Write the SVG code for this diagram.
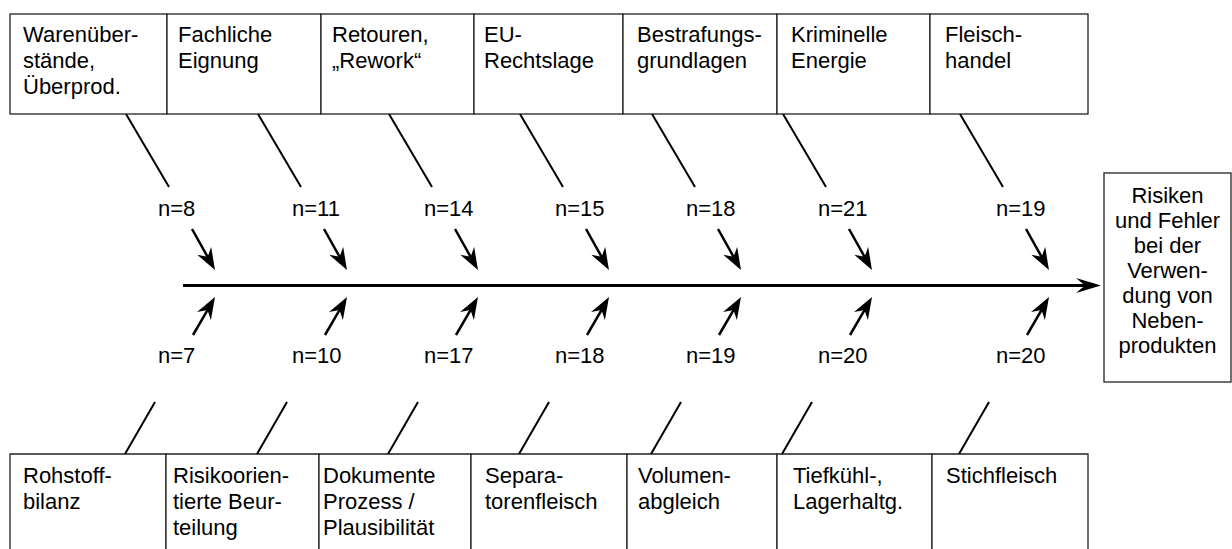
<svg xmlns="http://www.w3.org/2000/svg" width="1232" height="549" viewBox="0 0 1232 549">
<style>
.box{fill:#fff;stroke:#222;stroke-width:1.3}
.t{font-family:"Liberation Sans",Arial,sans-serif;font-size:22px;fill:#000}
.tc{font-family:"Liberation Sans",Arial,sans-serif;font-size:22px;fill:#000;text-anchor:middle}
.bone{stroke:#000;stroke-width:2;fill:none}
.arr{stroke:#000;stroke-width:2.5;fill:none;marker-end:url(#ah)}
.main{stroke:#000;stroke-width:3;fill:none;marker-end:url(#mh)}
</style>
<defs>
<marker id="ah" markerUnits="userSpaceOnUse" markerWidth="22" markerHeight="16" viewBox="0 0 22 16" refX="9" refY="8" orient="auto"><path d="M0,0 L22,8 L0,16 L7,8 Z" fill="#000"/></marker>
<marker id="mh" markerUnits="userSpaceOnUse" markerWidth="25" markerHeight="15" viewBox="0 0 25 15" refX="12" refY="7.5" orient="auto"><path d="M0,0 L25,7.5 L0,15 L9,7.5 Z" fill="#000"/></marker>
</defs>
<rect width="1232" height="549" fill="#fff"/>

<g id="top1"><rect class="box" x="10" y="14" width="157" height="100"/><text class="t" x="23" y="42">Warenüber-</text><text class="t" x="23" y="68">stände,</text><text class="t" x="23" y="94">Überprod.</text></g>
<g id="top2"><rect class="box" x="167" y="14" width="154" height="100"/><text class="t" x="178" y="42">Fachliche</text><text class="t" x="178" y="68">Eignung</text></g>
<g id="top3"><rect class="box" x="321" y="14" width="153" height="100"/><text class="t" x="332" y="42">Retouren,</text><text class="t" x="332" y="68">„Rework“</text></g>
<g id="top4"><rect class="box" x="474" y="14" width="149" height="100"/><text class="t" x="484" y="42">EU-</text><text class="t" x="484" y="68">Rechtslage</text></g>
<g id="top5"><rect class="box" x="623" y="14" width="154" height="100"/><text class="t" x="637" y="42">Bestrafungs-</text><text class="t" x="637" y="68">grundlagen</text></g>
<g id="top6"><rect class="box" x="777" y="14" width="153" height="100"/><text class="t" x="791" y="42">Kriminelle</text><text class="t" x="791" y="68">Energie</text></g>
<g id="top7"><rect class="box" x="930" y="14" width="158" height="100"/><text class="t" x="945" y="42">Fleisch-</text><text class="t" x="945" y="68">handel</text></g>

<g id="bot1"><path class="box" d="M10,549 V454 H166 V549"/><text class="t" x="23" y="483">Rohstoff-</text><text class="t" x="23" y="509">bilanz</text></g>
<g id="bot2"><path class="box" d="M166,549 V454 H319 V549"/><text class="t" x="173" y="483">Risikoorien-</text><text class="t" x="173" y="509">tierte Beur-</text><text class="t" x="173" y="535">teilung</text></g>
<g id="bot3"><path class="box" d="M319,549 V454 H471 V549"/><text class="t" x="323" y="483">Dokumente</text><text class="t" x="323" y="509">Prozess /</text><text class="t" x="323" y="535">Plausibilität</text></g>
<g id="bot4"><path class="box" d="M471,549 V454 H627 V549"/><text class="t" x="485" y="483">Separa-</text><text class="t" x="485" y="509">torenfleisch</text></g>
<g id="bot5"><path class="box" d="M627,549 V454 H777 V549"/><text class="t" x="638" y="483">Volumen-</text><text class="t" x="638" y="509">abgleich</text></g>
<g id="bot6"><path class="box" d="M777,549 V454 H932 V549"/><text class="t" x="793" y="483">Tiefkühl-,</text><text class="t" x="793" y="509">Lagerhaltg.</text></g>
<g id="bot7"><path class="box" d="M932,549 V454 H1088 V549"/><text class="t" x="946" y="483">Stichfleisch</text></g>

<g id="result"><rect class="box" x="1104" y="173" width="127" height="209"/>
<text class="tc" x="1167.5" y="203">Risiken</text><text class="tc" x="1167.5" y="228">und Fehler</text><text class="tc" x="1167.5" y="253">bei der</text><text class="tc" x="1167.5" y="278">Verwen-</text><text class="tc" x="1167.5" y="303">dung von</text><text class="tc" x="1167.5" y="328">Neben-</text><text class="tc" x="1167.5" y="353">produkten</text></g>

<g id="labels">
<text class="t" x="158" y="216">n=8</text><text class="t" x="292" y="216">n=11</text><text class="t" x="424" y="216">n=14</text><text class="t" x="555" y="216">n=15</text><text class="t" x="686" y="216">n=18</text><text class="t" x="818" y="216">n=21</text><text class="t" x="996" y="216">n=19</text>
<text class="t" x="158" y="363">n=7</text><text class="t" x="292" y="363">n=10</text><text class="t" x="424" y="363">n=17</text><text class="t" x="555" y="363">n=18</text><text class="t" x="686" y="363">n=19</text><text class="t" x="818" y="363">n=20</text><text class="t" x="996" y="363">n=20</text>
</g>

<g id="connectors">
<path class="main" d="M183,285.5 H1088"/>
<path class="bone" d="M126,114 L169,187 M258,114 L301,187 M389,114 L432,187 M520,114 L563,187 M652,114 L695,187 M783,114 L826,187 M960,114 L1003,187"/>
<path class="bone" d="M155,402 L125,454 M287,402 L257,454 M418,402 L388,454 M549,402 L519,454 M681,402 L651,454 M812,402 L782,454 M989,402 L959,454"/>
<path class="arr" d="M192,229 L208.6,258.6"/>
<path class="arr" d="M324,229 L340.6,258.6"/>
<path class="arr" d="M455,229 L471.6,258.6"/>
<path class="arr" d="M586,229 L602.6,258.6"/>
<path class="arr" d="M718,229 L734.6,258.6"/>
<path class="arr" d="M849,229 L865.6,258.6"/>
<path class="arr" d="M1026,229 L1042.6,258.6"/>
<path class="arr" d="M193,335 L208.5,308.3"/>
<path class="arr" d="M325,335 L340.5,308.3"/>
<path class="arr" d="M456,335 L471.5,308.3"/>
<path class="arr" d="M587,335 L602.5,308.3"/>
<path class="arr" d="M719,335 L734.5,308.3"/>
<path class="arr" d="M850,335 L865.5,308.3"/>
<path class="arr" d="M1027,335 L1042.5,308.3"/>
</g>
</svg>
